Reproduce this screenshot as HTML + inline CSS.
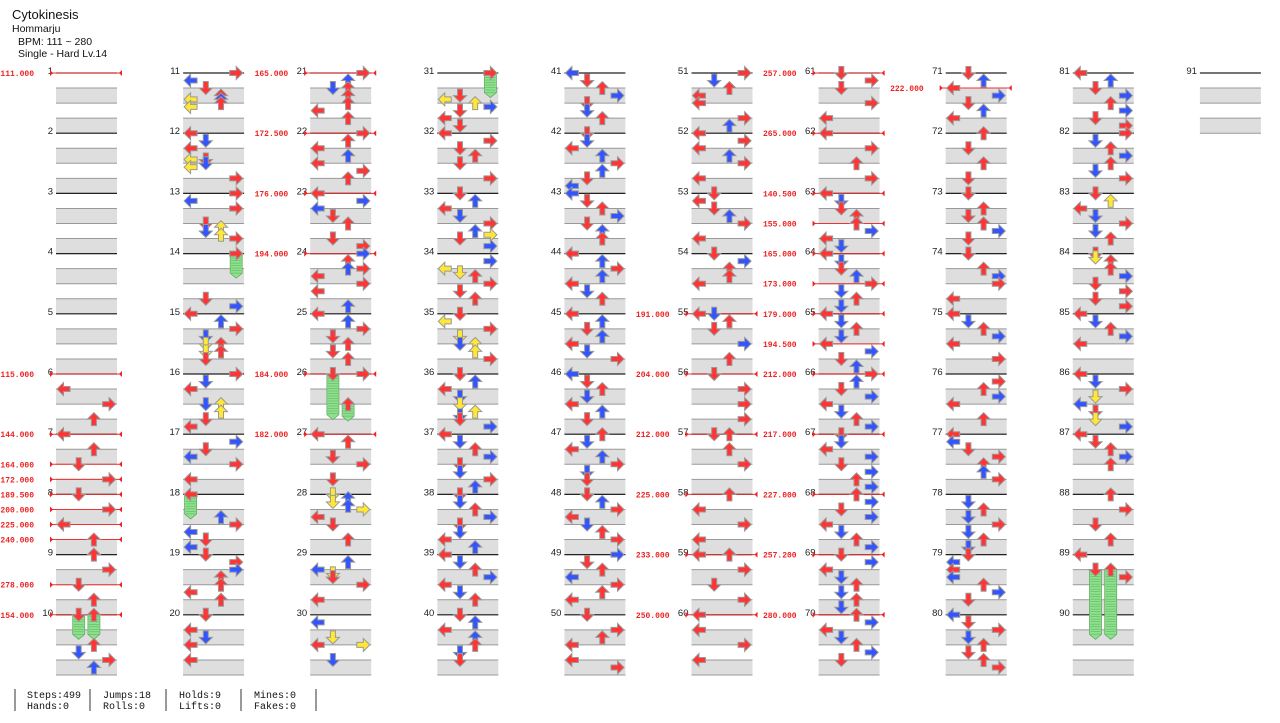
<!DOCTYPE html>
<html><head><meta charset="utf-8"><style>
body{margin:0;background:#fff;width:1280px;height:723px;overflow:hidden;font-family:"Liberation Sans",sans-serif}
svg{position:absolute;left:0;top:0}
</style></head><body>
<svg id="chart" width="1280" height="723" xmlns="http://www.w3.org/2000/svg">
<g>
<text x="12" y="19" font-size="13" fill="#111">Cytokinesis</text>
<text x="12" y="32" font-size="10.5" fill="#111">Hommarju</text>
<text x="18" y="45" font-size="10.5" fill="#111">BPM: 111 ~ 280</text>
<text x="18" y="57" font-size="10.5" fill="#111">Single - Hard  Lv.14</text>
</g>
<g id="layer"></g>
<g font-family="Liberation Mono, monospace" font-size="10" fill="#111">
<line x1="15" y1="689" x2="15" y2="711" stroke="#333"/><line x1="90" y1="689" x2="90" y2="711" stroke="#333"/><line x1="166" y1="689" x2="166" y2="711" stroke="#333"/><line x1="241" y1="689" x2="241" y2="711" stroke="#333"/><line x1="316" y1="689" x2="316" y2="711" stroke="#333"/>
<text x="27" y="698">Steps:499</text><text x="27" y="709">Hands:0</text>
<text x="103" y="698">Jumps:18</text><text x="103" y="709">Rolls:0</text>
<text x="179" y="698">Holds:9</text><text x="179" y="709">Lifts:0</text>
<text x="254" y="698">Mines:0</text><text x="254" y="709">Fakes:0</text>
</g>
</svg>
<script>
const measureCount = 91;
const bpmMeasures = [1,6,7,7,7,8,8,8,8,9,10,21,22,23,24,26,27,55,56,57,58,59,60,61,62,63,63,64,64,65,65,66,67,68,69,70,71];
const bpmBeats    = [0,0,0,2,3,0,1,2,3,2,0,0,0,0,0,0,0,0,0,0,0,0,0,0,0,0,2,0,2,0,2,0,0,0,0,0,1];
const bpmLabels = ["111.000","115.000","144.000","164.000","172.000","189.500","200.000","225.000","240.000","278.000","154.000","165.000","172.500","176.000","194.000","184.000","182.000","191.000","204.000","212.000","225.000","233.000","250.000","257.000","265.000","140.500","155.000","165.000","173.000","179.000","194.500","212.000","217.000","227.000","257.200","280.000","222.000"];
const notes = {
6:"1L 2R 3U",7:"0L 1U 2D 3R",8:"0D 1R 2L 3U",9:"0U 1R 2D 3U",10:"0Dh1.3 0Uh1.3 2U 2.5Db 3R 3.5Ub",
11:"0R 0.5Lb 1D 1.5U 1.75Ub 2U 1.75Ly 2.25Ly",12:"0L 0.5Db 1L 1.75D 2Db 1.75Ly 2.25Ly 3R",13:"0R 0.5Lb 1R 2D 2.5Db 2.25Uy 2.75Uy 3R",14:"0Rh1.3 3D 3.5Rb",15:"0L 0.5Ub 1R 1.5Db 2U 2.5U 2Dy 2.5Dy 3D",16:"0R 0.5Db 1L 2Db 2Uy 2.5Uy 3D 3.5L",17:"0.5Rb 1D 1.5Lb 2R 3L",18:"0Lh1.3 1.5Ub 2R 2.5Lb 3D 3.5Lb",19:"0D 0.5R 1Rb 1.5U 2U 2.5L 3U",20:"0D 1L 1.5Db 2L 3L",
21:"0R 0.5Ub 1Db 1U 1.5U 2U 2.5L 3U",22:"0R 0.5U 1L 1.5Ub 2L 2.5R 3U",23:"0L 0.5Rb 1Lb 1.5D 2U 3D 3.5R",24:"0Rb 0.5U 1R 1Ub 1.5L 2R 2.5L 3.5Ub",25:"0L 0.5Ub 1R 1.5D 2U 2.5D 3U",26:"0R 0Dh2.7 2Uh0.8",27:"0L 0.5U 1.5D 2R 3D",28:"0Dy 0.25Ub 0.5Dy 0.75Ub 1Ry 1.5L 2D 3U",29:"0.5Ub 1Lb 1.25Dy 1.5D 2R 3L",30:"0.5Lb 1.5Dy 2L 2Ry 3Db",
31:"0Rh1.3 1.5D 1.75Ly 2Uy 2.25Rb 2.5D 3L 3.5D",32:"0L 0.5R 1D 1.5U 2D 3R",33:"0D 0.5Ub 1L 1.5Db 2R 2.5Ub 2.75Ry 3D 3.5Rb",34:"0.5Rb 1Ly 1.25Dy 1.5U 2R 2.5D 3U",35:"0D 0.5Ly 1R 1.5Dy 2Db 2Uy 2.5Uy 3R",36:"0D 0.5Ub 1L 1.5Db 2Dy 2.5Uy 2.75Db 3D 3.5Rb",37:"0L 0.5Db 1U 1.5Rb 2D 2.5Db 3R 3.5Ub",38:"0D 0.5Db 1U 1.5Rb 2D 2.5Db 3L 3.5Ub",39:"0L 0.5Db 1U 1.5Rb 2L 2.5Db 3U",40:"0D 0.5Ub 1L 1.5Ub 2U 2.5Db 3D",
41:"0Lb 0.5D 1U 1.5Rb 2D 2.5Db 3U",42:"0D 0.5Db 1L 1.5Ub 2R 2.5Ub 3D 3.5Lb",43:"0Lb 0.5D 1U 1.5Rb 2D 2.5Ub 3U",44:"0L 0.5Ub 1R 1.5Ub 2L 2.5Db 3U",45:"0L 0.5Ub 1D 1.5Ub 2L 2.5Db 3R",46:"0Lb 0.5D 1U 1.5Db 2L 2.5Ub 3D",47:"0U 0.5Db 1L 1.5Ub 2R 2.5Db 3D",48:"0D 0.5Ub 1R 1.5L 2Db 2.5U 3R",49:"0Rb 0.5D 1U 1.5Lb 2R 2.5U 3L",50:"0D 1R 1.5U 2L 3L 3.5R",
51:"0R 0.5Db 1U 1.5L 2L 3R 3.5Ub",52:"0L 0.5R 1L 1.5Ub 2R 3L",53:"0D 0.5L 1D 1.5Ub 2R 3L",54:"0D 0.5Rb 1U 1.5U 2L",55:"0L 0Db 0.5U 1D 2Rb 3U",56:"0D 1R 2R 3R",57:"0D 0U 1U 2R",58:"0U 1L 2R 3L",59:"0L 0U 1R 2D 3R",60:"0L 1L 2R 3L",
61:"0D 0.5R 1D 2R 3L",62:"0L 1R 2U 3R",63:"0L 0.5Db 1D 1.5U 2U 2.5Rb 3L 3.5Db",64:"0L 0.5Db 1D 1.5Ub 2R 2.5Db 3U 3.5Db",65:"0L 0.5Db 1U 1.5Db 2L 2.5Rb 3D 3.5Ub",66:"0R 0.5Ub 1D 1.5Rb 2L 2.5Db 3U 3.5Rb",67:"0D 0.5Db 1L 1.5Rb 2D 2.5Rb 3U 3.5Rb",68:"0U 0.5Rb 1D 1.5Rb 2L 2.5Db 3U 3.5Rb",69:"0D 0.5Rb 1L 1.5Db 2U 2.5Db 3U 3.5Db",70:"0U 0.5Rb 1L 1.5Db 2U 2.5Rb 3D",
71:"0D 0.5Ub 1L 1.5Rb 2D 2.5Ub 3L",72:"0U 1D 2U 3D",73:"0D 1U 1.5D 2U 2.5Rb 3D",74:"0D 1U 1.5Rb 2R 3L",75:"0L 0.5Db 1U 1.5Rb 2L 3R",76:"0.5R 1U 1.5Rb 2L 3U",77:"0L 0.5Lb 1D 1.5R 2U 2.5Ub 3R",78:"0.5Db 1U 1.5Db 2R 2.5Db 3U 3.5Db",79:"0D 0.5Lb 1L 1.5Lb 2U 2.5Rb 3D",80:"0Lb 0.5D 1R 1.5Db 2U 2.5D 3U 3.5R",
81:"0L 0.5Ub 1D 1.5Rb 2U 2.5Rb 3D 3.5R",82:"0R 0.5Db 1U 1.5Rb 2U 2.5Db 3R",83:"0D 0.5Uy 1L 1.5Db 2R 2.5Db 3U",84:"0D 0.25Dy 0.5U 1U 1.5Rb 2D 2.5R 3D 3.5R",85:"0L 0.5Db 1U 1.5Rb 2L",86:"0L 0.5Db 1R 1.5Dy 2Lb 2.5D 3Dy 3.5Rb",87:"0L 0.5D 1U 1.5Rb 2U",88:"0U 1R 2D 3U",89:"0L 1Dh4.3 1Uh4.3 1.5R"
};
const NS="http://www.w3.org/2000/svg";
const layer=document.getElementById('layer');
const colX0=56, colStep=127.1, top0=73, mH=60.2, beatH=mH/4, laneW=15.2;
function colX(m){return colX0+Math.floor((m-1)/10)*colStep;}
function mY(m){return top0+((m-1)%10)*mH;}
function yOf(m,b){return mY(m)+b*beatH;}
function laneX(m,l){return colX(m)+7.5+l*laneW;}
function mk(tag,attrs,parent){const e=document.createElementNS(NS,tag);for(const k in attrs)e.setAttribute(k,attrs[k]);(parent||layer).appendChild(e);return e;}
// measures
for(let m=1;m<=measureCount;m++){
  const x=colX(m), y=mY(m);
  const g=mk('g',{});
  
  
  [[1,2],[3,4]].forEach(([a,b])=>{
    mk('rect',{x:x,y:y+a*beatH,width:61,height:beatH,fill:'#dedede'},g);
    mk('line',{x1:x,x2:x+61,y1:y+a*beatH,y2:y+a*beatH,stroke:'#999','stroke-width':1},g);
    if(!(m===measureCount&&b===4)||true) mk('line',{x1:x,x2:x+61,y1:y+b*beatH,y2:y+b*beatH,stroke:'#999','stroke-width':1},g);
  });
  mk('line',{x1:x,x2:x+61,y1:y,y2:y,stroke:'#222','stroke-width':1.2},g);
  const t=mk('text',{x:x-3,y:y+1,'font-size':9.5,'text-anchor':'end',fill:'#222'},g);
  t.textContent=m;
}
// bpm changes
bpmMeasures.forEach((m,i)=>{
  const x=colX(m), y=yOf(m,bpmBeats[i]);
  const g=mk('g',{});
  
  
  mk('line',{x1:x-6,x2:x+66,y1:y,y2:y,stroke:'#ee3333','stroke-width':1},g);
  mk('polygon',{points:`${x-6},${y-3} ${x-3},${y} ${x-6},${y+3}`,fill:'#ee2222'},g);
  mk('polygon',{points:`${x+66},${y-3} ${x+63},${y} ${x+66},${y+3}`,fill:'#ee2222'},g);
  const t=mk('text',{x:x-22,y:y+3,'font-size':8,'text-anchor':'end',fill:'#ee2222','font-family':'Liberation Mono, monospace','font-weight':'bold'},g);
  t.textContent=bpmLabels[i];
});
const laneIdx={L:0,D:1,U:2,R:3}, rot={L:-90,D:180,U:0,R:90};
const cols={r:'#ff3535',b:'#3355ff',y:'#ffe733'};
const holds=[], arrows=[];
for(const m in notes){
  notes[m].split(' ').forEach(tok=>{
    const r=/^([\d.]+)([LDUR])([by]?)(?:h([\d.]+))?$/.exec(tok); if(!r)return;
    const b=parseFloat(r[1]), l=r[2], c=r[3]||'r';
    if(r[4]) holds.push([+m,b,l,parseFloat(r[4])]);
    arrows.push([+m,b,l,c]);
  });
}
holds.forEach(([m,b,l,len])=>{
  const x=laneX(m,laneIdx[l]), y0=yOf(m,b), y1=y0+len*beatH;
  const g=mk('g',{});
  
  
  mk('polygon',{points:`${x-6},${y0} ${x+6},${y0} ${x+6},${y1} ${x},${y1+5} ${x-6},${y1}`,fill:'#8fe08f',stroke:'#6a6','stroke-width':0.8},g);
  for(let yy=y0+2;yy<y1;yy+=2.5) mk('line',{x1:x-5,x2:x+5,y1:yy,y2:yy,stroke:'#5cb85c','stroke-width':0.6},g);
});
arrows.forEach(([m,b,l,c])=>{
  const x=laneX(m,laneIdx[l]), y=yOf(m,b);
  const p=mk('polygon',{points:'0,-6.5 6.5,0 2.5,0 2.5,6.5 -2.5,6.5 -2.5,0 -6.5,0',fill:cols[c],stroke:'#999','stroke-width':1,transform:`translate(${x},${y}) rotate(${rot[l]})`});
  
  
});
</script>
</body></html>
